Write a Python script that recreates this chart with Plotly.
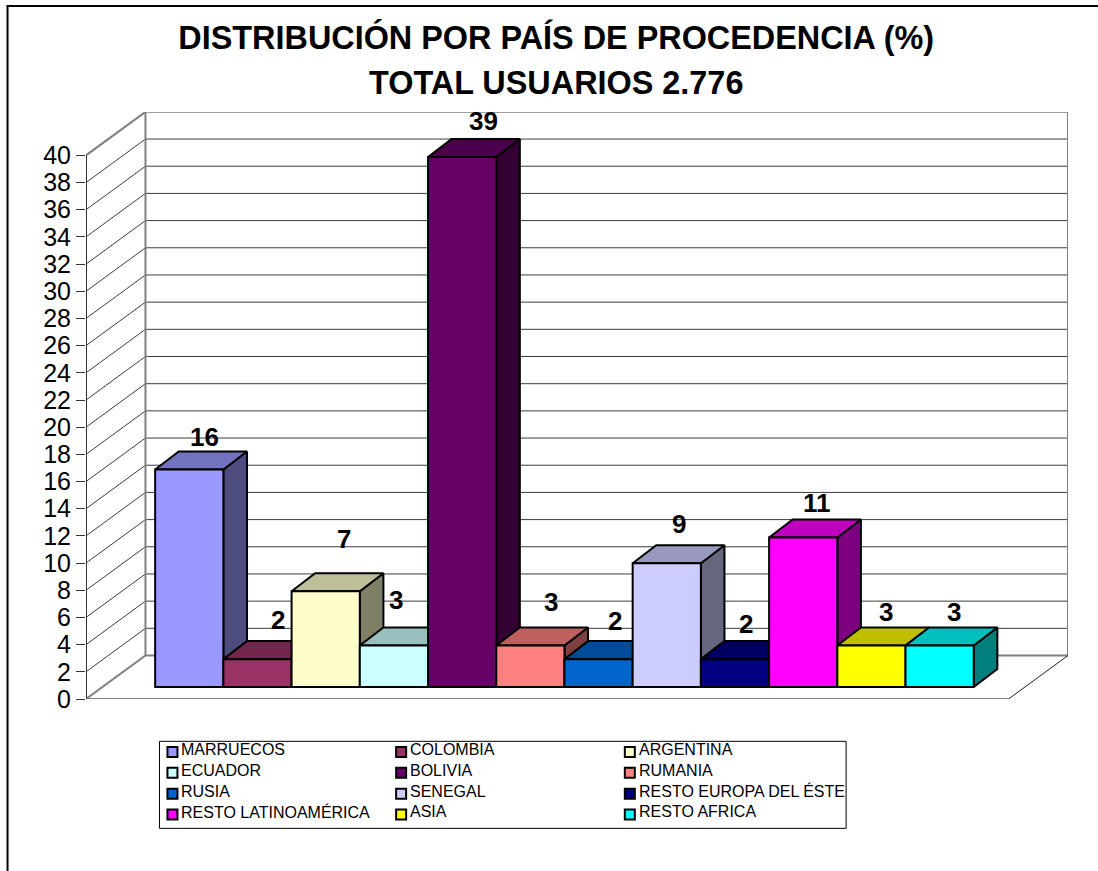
import plotly.graph_objects as go

# ---- data ----
categories = ["MARRUECOS", "COLOMBIA", "ARGENTINA", "ECUADOR", "BOLIVIA", "RUMANIA",
              "RUSIA", "SENEGAL", "RESTO EUROPA DEL ÉSTE", "RESTO LATINOAMÉRICA",
              "ASIA", "RESTO AFRICA"]
values = [16.0, 2.05, 7.05, 3.05, 39.0, 3.05, 2.05, 9.1, 2.05, 11.0, 3.05, 3.05]
value_labels = ["16", "2", "7", "3", "39", "3", "2", "9", "2", "11", "3", "3"]
tick_values = list(range(0, 41, 2))

# ---- styles ----
front_colors = ["#9999FF", "#993366", "#FFFFCC", "#CCFFFF", "#660066", "#FF8080",
                "#0066CC", "#CCCCFF", "#000080", "#FF00FF", "#FFFF00", "#00FFFF"]
label_dx = [15, 21, 18, 2, 21, 21, 16, 12, 11, 14, 15, 14]
label_dy = [33, 39, 52, 46, 36, 44, 38, 39, 35, 34, 34, 34]

# ---- plot geometry ----
W, H = 1098, 871
PL, PR, PT, PB = 85.5, 1068.0, 112.0, 698.7
X_UNIT = 68.25
Y_UNIT = (PB - PT) / 43.19
X_RANGE = [-0.5 - (154.7 - PL) / X_UNIT, 11.5 + (PR - 973.7) / X_UNIT]
Y_RANGE = [0, 43.19]
WALL_DX, WALL_DY = 59.5 / X_UNIT, 3.2      # depth of the box
BAR_DX, BAR_DY = 23.6 / X_UNIT, 18 / Y_UNIT  # depth of each column
BAR_BASE = 12 / Y_UNIT


def shade(hex_color, k):
    r, g, b = (int(hex_color[i:i + 2], 16) for i in (1, 3, 5))
    return f"rgb({int(r * k)},{int(g * k)},{int(b * k)})"


def px(x):
    return (x - PL) / (PR - PL)


def py(y):
    return (PB - y) / (PB - PT)


fig = go.Figure()
x0, x1 = X_RANGE
xb = x1  # back-right edge
xf = xb - WALL_DX


def line(xs, ys, color, width):
    fig.add_trace(go.Scatter(x=xs, y=ys, mode="lines", cliponaxis=False, hoverinfo="skip",
                             line=dict(color=color, width=width), showlegend=False))


# gridlines on the side and back walls
for v in tick_values[1:-1]:
    line([x0, x0 + WALL_DX, xb], [v, v + WALL_DY, v + WALL_DY], "#3c3c3c", 1)

# walls and floor
GRAY = "#808080"
line([x0, x0 + WALL_DX, xb, xb], [40, 40 + WALL_DY, 40 + WALL_DY, WALL_DY], GRAY, 2)
line([x0 + WALL_DX, x0 + WALL_DX], [40 + WALL_DY, WALL_DY], GRAY, 2)
line([x0, x0 + WALL_DX, xb], [0, WALL_DY, WALL_DY], GRAY, 2)
line([x0, xf], [0, 0], GRAY, 2)
line([xf, xb], [0, WALL_DY], "#222222", 1)
line([x0, x0], [0, 40], "#333333", 2)

# side and top faces, left to right
for i, (v, c) in enumerate(zip(values, front_colors)):
    l, r = i - 0.5, i + 0.5
    b, t = BAR_BASE, BAR_BASE + v
    fig.add_trace(go.Scatter(x=[r, r + BAR_DX, r + BAR_DX, r, r],
                             y=[b, b + BAR_DY, t + BAR_DY, t, b],
                             mode="lines", fill="toself", fillcolor=shade(c, 0.5),
                             line=dict(color="black", width=2), hoverinfo="skip", showlegend=False))
    fig.add_trace(go.Scatter(x=[l, l + BAR_DX, r + BAR_DX, r, l],
                             y=[t, t + BAR_DY, t + BAR_DY, t, t],
                             mode="lines", fill="toself", fillcolor=shade(c, 0.75),
                             line=dict(color="black", width=2), hoverinfo="skip", showlegend=False))

# front faces on an overlaid copy of the axes, so they sit over the side faces
for i, (name, v, c) in enumerate(zip(categories, values, front_colors)):
    fig.add_trace(go.Bar(x=[i], y=[v], base=BAR_BASE, width=1, name=name, xaxis="x2", yaxis="y2",
                         marker=dict(color=c, line=dict(color="black", width=2)),
                         showlegend=False))

annotations = []
# value labels
for i, v in enumerate(values):
    annotations.append(dict(x=i, y=BAR_BASE + v, xref="x", yref="y",
                            text="<b>" + value_labels[i] + "</b>",
                            showarrow=False, xshift=label_dx[i], yshift=label_dy[i],
                            font=dict(family="Liberation Sans", size=26, color="black")))

# second title line
annotations.append(dict(x=px(556), y=py(83), xref="paper", yref="paper", showarrow=False,
                        text="<b>TOTAL USUARIOS 2.776</b>", xanchor="center", yanchor="middle",
                        font=dict(family="Liberation Sans", size=32.4, color="black")))

shapes = [
    # outer chart frame (only left and top fall inside the window)
    dict(type="line", xref="paper", yref="paper", x0=px(7), x1=px(7), y0=py(6), y1=py(880),
         line=dict(color="black", width=2)),
    dict(type="line", xref="paper", yref="paper", x0=px(6), x1=px(1100), y0=py(6), y1=py(6),
         line=dict(color="black", width=2)),
    # legend box
    dict(type="rect", xref="paper", yref="paper", x0=px(159), x1=px(846), y0=py(741), y1=py(828),
         line=dict(color="black", width=1), fillcolor="white"),
]

# legend, three columns filled row by row
for i, (name, c) in enumerate(zip(categories, front_colors)):
    col, row = i % 3, i // 3
    sx = 172 + col * 228.8
    sy = 751.7 + row * 20.8
    shapes.append(dict(type="rect", xref="paper", yref="paper", x0=px(sx - 5), x1=px(sx + 5),
                       y0=py(sy - 5), y1=py(sy + 5), fillcolor=c,
                       line=dict(color="black", width=2)))
    annotations.append(dict(x=px(sx + 7), y=py(sy - 2.5), xref="paper", yref="paper", text=name,
                            showarrow=False, xanchor="left", yanchor="middle",
                            font=dict(family="Liberation Sans", size=16, color="black")))

fig.update_layout(
    width=W, height=H, autosize=False,
    margin=dict(l=PL, r=W - PR, t=PT, b=H - PB, pad=0),
    paper_bgcolor="white", plot_bgcolor="white",
    barmode="overlay", showlegend=False,
    title=dict(text="<b>DISTRIBUCIÓN POR PAÍS DE PROCEDENCIA (%)</b>",
               x=px(556), xref="paper", xanchor="center",
               y=1 - 38 / H, yref="container", yanchor="middle",
               font=dict(family="Liberation Sans", size=32.4, color="black")),
    xaxis=dict(range=X_RANGE, visible=False, fixedrange=True),
    yaxis=dict(range=Y_RANGE, tickmode="array", tickvals=tick_values,
               ticktext=[str(v) for v in tick_values],
               ticks="outside", ticklen=9, tickwidth=1, tickcolor="#333333",
               showgrid=False, zeroline=False, showline=False, fixedrange=True,
               tickfont=dict(family="Liberation Sans", size=25, color="black")),
    xaxis2=dict(range=X_RANGE, visible=False, overlaying="x", fixedrange=True),
    yaxis2=dict(range=Y_RANGE, visible=False, overlaying="y", fixedrange=True),
    shapes=shapes, annotations=annotations,
)

fig.write_html("out.html", config=dict(displayModeBar=False),
               post_script="document.body.style.margin='0';document.body.style.overflow='hidden';")
